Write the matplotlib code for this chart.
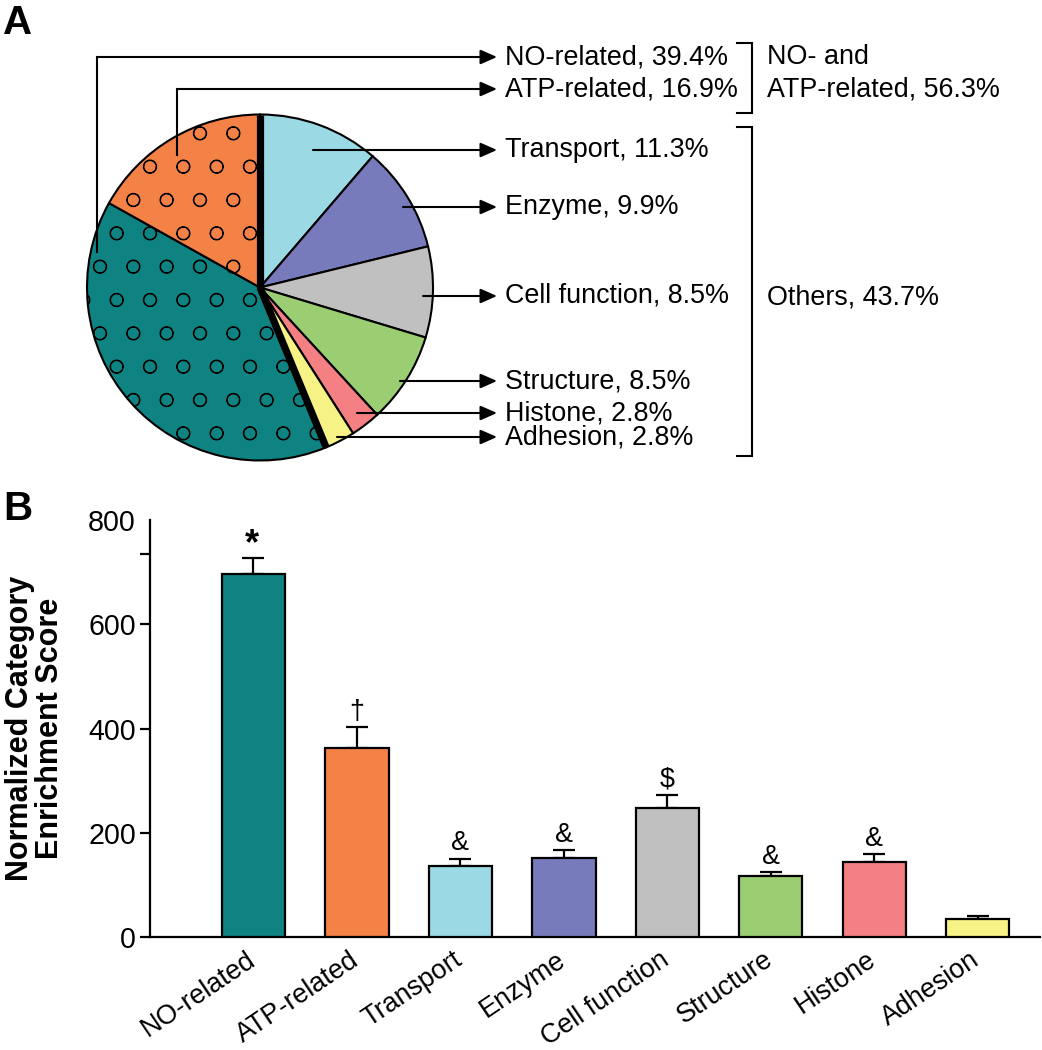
import numpy as np
import matplotlib
matplotlib.use("Agg")
import matplotlib.pyplot as plt
from matplotlib.transforms import ScaledTranslation

plt.rcParams['font.family'] = ['Liberation Sans', 'DejaVu Sans']
plt.rcParams['hatch.linewidth'] = 0.35

# ---- data ----
pie_names = ['Transport', 'Enzyme', 'Cell function', 'Structure',
             'Histone', 'Adhesion', 'NO-related', 'ATP-related']
pie_pcts = [11.3, 9.9, 8.5, 8.5, 2.8, 2.8, 39.4, 16.9]
pie_colors = ['#9bd9e5', '#787bbb', '#c0c0c0', '#9bcd72',
              '#f58084', '#f7f286', '#0f8381', '#f48146']
pie_hatch = ['', '', '', '', '', '', 'o', 'o']

bar_names = ['NO-related', 'ATP-related', 'Transport', 'Enzyme',
             'Cell function', 'Structure', 'Histone', 'Adhesion']
bar_means = [697, 362, 136, 152, 248, 117, 144, 35]
bar_errs = [30, 40, 14, 15, 24, 8, 15, 6]
bar_colors = ['#0f8381', '#f48146', '#9bd9e5', '#787bbb',
              '#c0c0c0', '#9bcd72', '#f58084', '#f7f286']
bar_marks = ['*', '\u2020', '&', '&', '$', '&', '&', '']

W, H = 1042, 1050
DPI = 200
fig = plt.figure(figsize=(W / DPI, H / DPI), dpi=DPI)

# ---- panel A: overlay axes in pixel units (y measured from top) ----
ax_a = fig.add_axes([0, 0, 1, 1])


def py(y):
    return H - y


cx, cy, R = 260, py(287.5), 173
wedges, _ = ax_a.pie(pie_pcts, colors=pie_colors, startangle=90,
                     counterclock=False, center=(cx, cy), radius=R,
                     wedgeprops=dict(edgecolor='black', linewidth=0.75))
for w, h in zip(wedges, pie_hatch):
    w.set_hatch(h)
ax_a.set_xlim(0, W)
ax_a.set_ylim(0, H)
ax_a.set_aspect('auto')
ax_a.axis('off')

# thick separators at the start of "Others" and at the start of NO-related
total = sum(pie_pcts)
n_other = 6
for frac in [0.0, sum(pie_pcts[:n_other]) / total]:
    ang = np.deg2rad(90 - 360 * frac)
    ax_a.plot([cx, cx + R * np.cos(ang)], [cy, cy + R * np.sin(ang)],
              color='black', lw=2.6, solid_capstyle='butt', zorder=5)

# label rows: (label y, arrow start x, optional vertical start y)
label_y = [150, 207, 296, 381, 413, 437, 57, 89]
start_x = [313, 403, 423, 400, 357, 337, 97, 177]
start_y = [None, None, None, None, None, None, 252, 155]
arrow_end = 497
txt_x = 505
fs = 9.7
arrow_kw = dict(arrowstyle='-|>,head_length=0.5,head_width=0.22',
                lw=0.75, color='black', shrinkA=0, shrinkB=0,
                mutation_scale=10)
for name, pct, ly, sx, sy in zip(pie_names, pie_pcts, label_y, start_x,
                                 start_y):
    if sy is not None:
        ax_a.plot([sx, sx], [py(sy), py(ly)], color='black', lw=0.75,
                  zorder=6, solid_capstyle='projecting')
    ax_a.annotate('', xy=(arrow_end, py(ly)), xytext=(sx, py(ly)),
                  arrowprops=arrow_kw, zorder=6)
    ax_a.text(txt_x, py(ly), f'{name}, {pct}%', fontsize=fs,
              ha='left', va='center')


# brackets for groups
def bracket(y0, y1, x=752, x0=737):
    ax_a.plot([x0, x, x, x0], [py(y0), py(y0), py(y1), py(y1)],
              color='black', lw=0.75, solid_joinstyle='miter')


no_atp = round(pie_pcts[6] + pie_pcts[7], 1)
others = round(100 - no_atp, 1)
bracket(43, 113)
bracket(127, 456)
ax_a.text(767, py(57), 'NO- and', fontsize=fs, ha='left', va='center')
ax_a.text(767, py(89), f'ATP-related, {no_atp}%', fontsize=fs,
          ha='left', va='center')
ax_a.text(767, py(298), f'Others, {others}%', fontsize=fs,
          ha='left', va='center')

fig.text(3 / W, 1 - 4 / H, 'A', fontsize=14.5, fontweight='bold',
         ha='left', va='top')
fig.text(3 / W, 1 - 490 / H, 'B', fontsize=14.5, fontweight='bold',
         ha='left', va='top')

# ---- panel B: bar chart ----
ax_b = fig.add_axes([150 / W, 1 - 937 / H, 890 / W, 417 / H])
x = np.arange(len(bar_names))
ax_b.errorbar(x, bar_means, yerr=[np.zeros(len(x)), bar_errs], fmt='none',
              ecolor='black', elinewidth=0.8, capsize=3.8, capthick=0.8,
              zorder=2)
ax_b.bar(x, bar_means, width=0.61, color=bar_colors, edgecolor='black',
         linewidth=0.8, zorder=3)
for xi, m, e, mk in zip(x, bar_means, bar_errs, bar_marks):
    if not mk:
        continue
    if mk == '*':
        ax_b.annotate(mk, (xi, m + e), xytext=(-0.5, 1.5),
                      textcoords='offset points', ha='center',
                      va='baseline', fontsize=13, fontweight='bold')
    else:
        ax_b.annotate(mk, (xi, m + e), xytext=(0, 3),
                      textcoords='offset points', ha='center',
                      va='baseline', fontsize=fs)

ax_b.set_xlim(-1.0, 7.6)
ax_b.set_ylim(0, 800)
ax_b.spines['top'].set_visible(False)
ax_b.spines['right'].set_visible(False)
ax_b.spines['left'].set_linewidth(0.8)
ax_b.spines['bottom'].set_linewidth(0.8)
ax_b.set_yticks([0, 200, 400, 600, 735, 800])
ax_b.set_yticklabels(['0', '200', '400', '600', '', '800'], fontsize=10.3)
ax_b.yaxis.get_major_ticks()[-1].tick1line.set_visible(False)
ax_b.tick_params(axis='y', length=3.6, width=0.8, pad=1.5)
ax_b.set_xticks(x)
ax_b.set_xticklabels(bar_names, rotation=34, ha='right',
                     rotation_mode='anchor', fontsize=fs)
ax_b.tick_params(axis='x', length=0, pad=3.5)
shift = ScaledTranslation(-8 / DPI, 0, fig.dpi_scale_trans)
for lab in ax_b.get_xticklabels():
    lab.set_transform(lab.get_transform() + shift)
ax_b.set_ylabel('Normalized Category\nEnrichment Score', fontsize=11,
                fontweight='bold', linespacing=1.0)
ax_b.yaxis.set_label_coords(-0.096, 0.5)

fig.savefig('out.png', dpi=DPI)
